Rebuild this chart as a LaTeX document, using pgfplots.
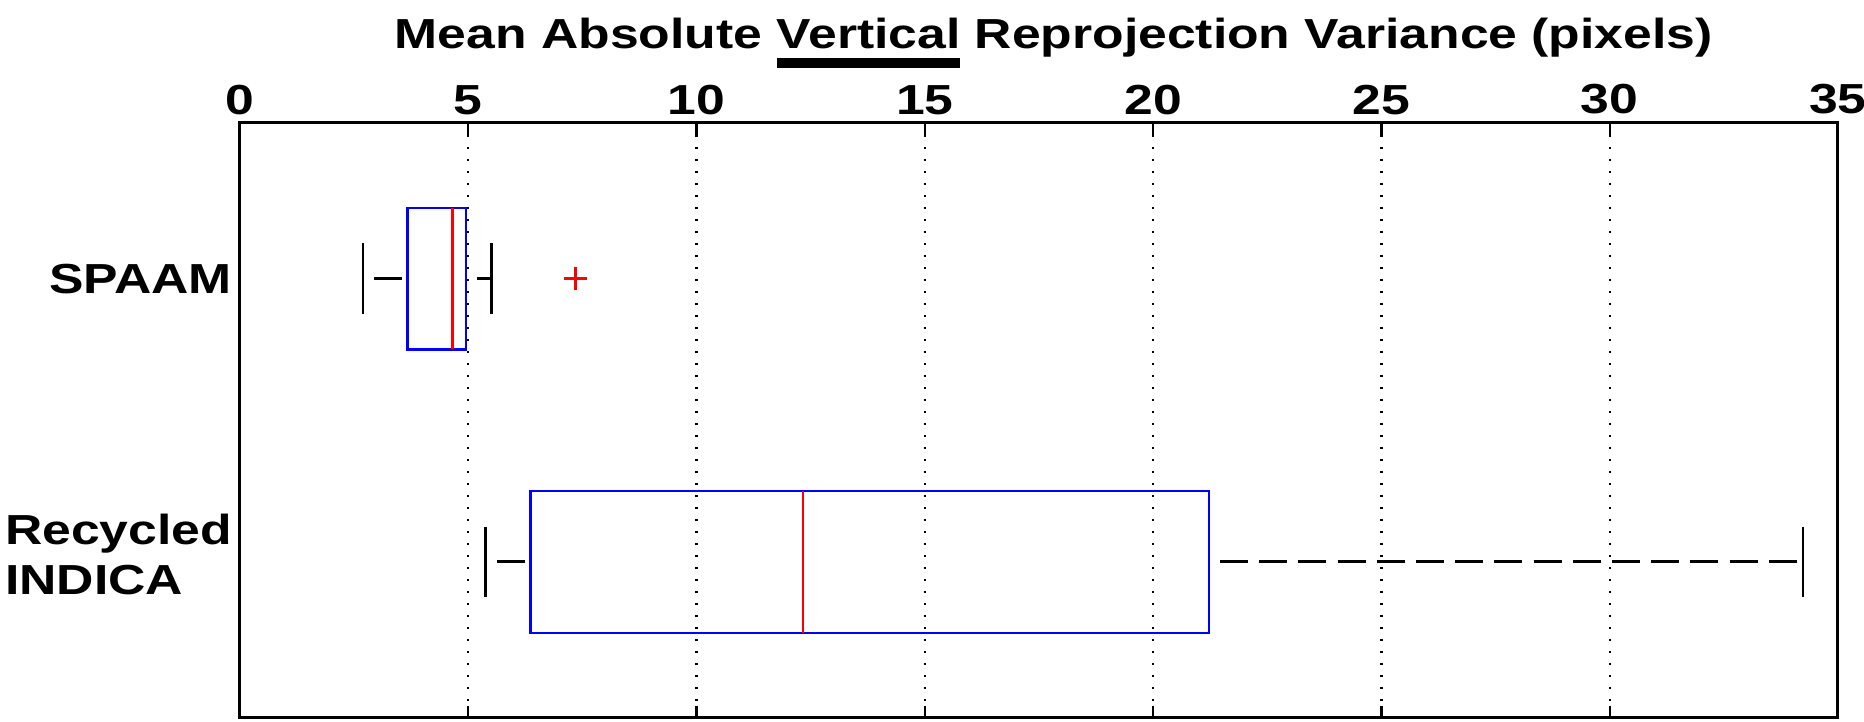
\documentclass[border=0pt]{standalone}
\usepackage{fontspec}
\setmainfont{Liberation Sans}[FakeStretch=1.23]
\usepackage{pgfplots}
\pgfplotsset{compat=1.18}
\usepgfplotslibrary{statistics}

\newcommand{\cf}{\fontsize{10.5}{12.7}\selectfont\bfseries}
\newcommand{\ulbar}[1]{\setbox0\hbox{#1}\rlap{\raisebox{-5.1pt}{\rule{\wd0}{2.6pt}}}\box0}

\pgfplotsset{
  boxplot/draw/lower whisker/.code={%
    \draw[black,line width=0.75pt,dash pattern=on 7pt off 2.8pt,dash phase=7pt]
      (boxplot cs:\pgfplotsboxplotvalue{lower whisker}) -- (boxplot cs:\pgfplotsboxplotvalue{lower quartile});
    \draw[black,line width=0.6pt,solid]
      (boxplot whisker cs:\pgfplotsboxplotvalue{lower whisker},0) -- (boxplot whisker cs:\pgfplotsboxplotvalue{lower whisker},1);
  },
  boxplot/draw/upper whisker/.code={%
    \draw[black,line width=0.75pt,dash pattern=on 7pt off 2.8pt,dash phase=7pt]
      (boxplot cs:\pgfplotsboxplotvalue{upper quartile}) -- (boxplot cs:\pgfplotsboxplotvalue{upper whisker});
    \draw[black,line width=0.6pt,solid]
      (boxplot whisker cs:\pgfplotsboxplotvalue{upper whisker},0) -- (boxplot whisker cs:\pgfplotsboxplotvalue{upper whisker},1);
  },
}

\begin{document}
\begin{tikzpicture}[font=\cf]
\begin{axis}[
  at={(0,0)}, anchor=south west,
  scale only axis, width=399.5pt, height=148.75pt,
  xmin=0, xmax=35, ymin=0.45, ymax=2.55, y dir=reverse,
  xtick={0,5,...,35}, xticklabel pos=upper, tick align=inside,
  major tick length=3pt,
  ytick={1,2}, yticklabels={SPAAM,{Recycled\\INDICA\strut}},
  tick label style={font=\cf},
  yticklabel style={align=left, inner xsep=1.8pt},
  xticklabel style={inner ysep=1.9pt},
  ytick style={draw=none},
  xtick style={black, line width=0.6pt},
  xmajorgrids,
  major grid style={black, line width=0.55pt, dash pattern=on 0.55pt off 2.45pt},
  axis line style={black, line width=0.75pt},
  every axis title shift=0pt,
  title={Mean Absolute \ulbar{Vertical}\ Reprojection Variance (pixels)},
  title style={font=\cf, at={(0.5,1)}, anchor=base, yshift=18.7pt, xshift=3.7pt, inner sep=0pt},
  /pgf/number format/assume math mode=true,
  clip=false,
]
\addplot[draw=blue, line width=0.65pt,
  boxplot/every median/.style={draw=red, line width=0.65pt},
  mark=+, mark size=2.9pt, mark options={red, solid, line width=0.65pt},
  boxplot prepared={draw position=1, lower whisker=2.69, lower quartile=3.67,
    median=4.66, upper quartile=4.95, upper whisker=5.51,
    box extend=0.5, whisker extend=0.25}]
  coordinates {(0,7.35)};
\addplot[draw=blue, line width=0.65pt,
  boxplot/every median/.style={draw=red, line width=0.65pt},
  mark=+, mark size=2.9pt, mark options={red, solid, line width=0.65pt},
  boxplot prepared={draw position=2, lower whisker=5.38, lower quartile=6.36,
    median=12.33, upper quartile=21.22, upper whisker=34.23,
    box extend=0.5, whisker extend=0.25}]
  coordinates {};
\end{axis}
\pgfresetboundingbox
\path (-60pt,-0.8pt) rectangle (406pt,179.45pt);
\end{tikzpicture}
\end{document}
